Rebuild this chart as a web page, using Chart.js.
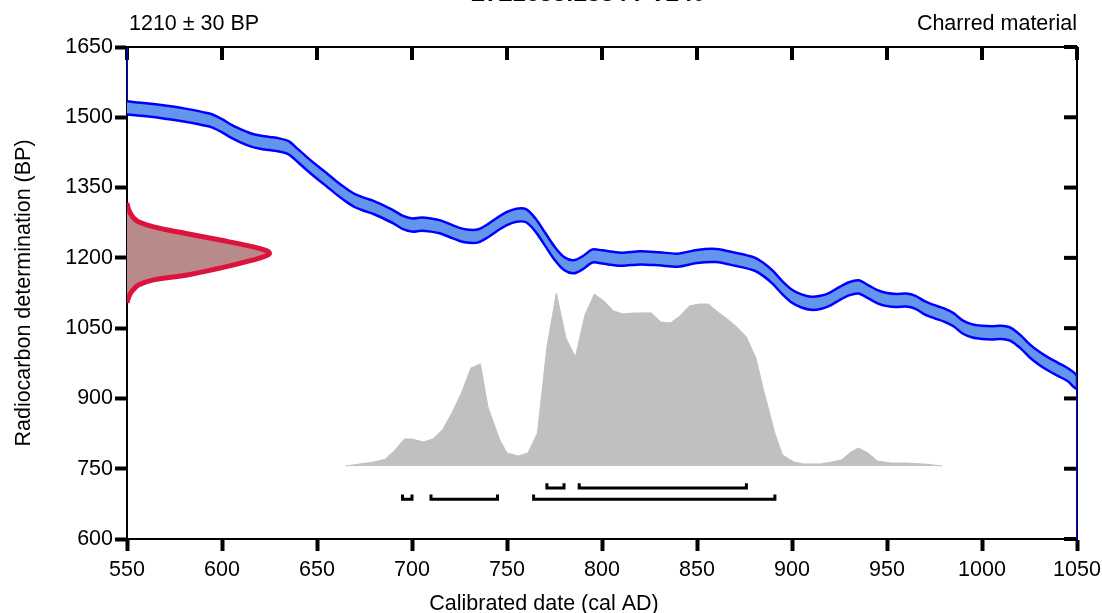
<!DOCTYPE html>
<html>
<head>
<meta charset="utf-8">
<script src="https://cdn.jsdelivr.net/npm/chart.js@4.4.0/dist/chart.umd.min.js"></script>
<style>
html, body { margin: 0; padding: 0; background: #fff; }
canvas { display: block; }
</style>
</head>
<body>
<canvas id="calChart" width="1102" height="613"></canvas>
<script>
// sample info
const chartTitle = 'LTL1633:2384 PV240';
const sampleLabel = '1210 ± 30 BP';
const materialLabel = 'Charred material';

// calibration curve (centre, BP) and half width
const calYears = [550, 560, 570, 580, 590, 595, 600, 605, 610, 615, 620, 625, 630, 635, 640, 645, 650, 655, 660, 665,
  670, 675, 680, 685, 690, 695, 700, 705, 710, 715, 720, 725, 730, 735, 740, 745, 750, 755, 760, 765,
  770, 775, 780, 785, 790, 795, 800, 810, 820, 830, 840, 850, 860, 870, 880, 885, 890, 895, 900, 905,
  910, 915, 920, 925, 930, 935, 940, 945, 950, 955, 960, 965, 970, 975, 980, 985, 990, 995, 1000, 1005,
  1010, 1015, 1020, 1025, 1030, 1035, 1040, 1045, 1050];
const calBP = [1520, 1516, 1511, 1505, 1497, 1492, 1482, 1470, 1460, 1452, 1447, 1444, 1441, 1435, 1418, 1400, 1383, 1367, 1350, 1335,
  1322, 1314, 1307, 1298, 1288, 1276, 1270, 1272, 1270, 1266, 1258, 1250, 1246, 1247, 1258, 1272, 1284, 1291, 1290, 1270,
  1240, 1210, 1188, 1181, 1190, 1204, 1202, 1197, 1200, 1198, 1195, 1203, 1205, 1197, 1187, 1175, 1158, 1136, 1118, 1108,
  1103, 1105, 1112, 1124, 1134, 1138, 1128, 1117, 1111, 1109, 1110, 1105, 1093, 1085, 1078, 1068, 1052, 1044, 1041, 1040,
  1041, 1037, 1022, 1002, 986, 973, 962, 951, 934];
const calErr = 14;

// measurement distribution (BP level, extent in years from the axis)
const measBP = [1104, 1114, 1124, 1133, 1142, 1153, 1163, 1178, 1195, 1204, 1210, 1216, 1224, 1238, 1252, 1266, 1277, 1285, 1295, 1305, 1317];
const measExtent = [0, 0.7, 1.8, 3.5, 6, 14, 31, 49, 66, 73, 75, 73, 66, 49, 31, 14, 6, 3.5, 1.8, 0.7, 0];

// calibrated probability (relative)
const probYears = [665, 680, 686, 691, 696, 700, 706, 711, 716, 721, 726, 731, 736, 740, 746, 750, 756, 761, 766, 771,
  776, 781, 786, 791, 796, 801, 806, 811, 816, 821, 826, 831, 836, 841, 846, 851, 856, 861, 866, 871,
  876, 881, 885, 891, 895, 901, 906, 915, 921, 926, 931, 935, 940, 945, 952, 961, 971, 979];
const probValues = [0, 0.023, 0.04, 0.092, 0.156, 0.156, 0.139, 0.156, 0.208, 0.306, 0.422, 0.566, 0.59, 0.341, 0.156, 0.075, 0.058, 0.075, 0.19, 0.688,
  1.0, 0.74, 0.63, 0.873, 0.994, 0.954, 0.896, 0.879, 0.884, 0.885, 0.885, 0.832, 0.827, 0.867, 0.925, 0.936, 0.936, 0.89, 0.85, 0.803,
  0.746, 0.624, 0.44, 0.19, 0.064, 0.023, 0.012, 0.012, 0.023, 0.035, 0.081, 0.104, 0.075, 0.029, 0.017, 0.017, 0.01, 0];

// ranges (cal AD)
const range68 = [[771, 780], [788, 876]];
const range95 = [[695, 700], [710, 745], [764, 891]];

const xTicks = [550, 600, 650, 700, 750, 800, 850, 900, 950, 1000, 1050];
const yTicks = [600, 750, 900, 1050, 1200, 1350, 1500, 1650];

// ---- build datasets ----
const bandPts = [];
calYears.forEach((yr, i) => bandPts.push({ x: yr, y: calBP[i] + calErr }));
for (let i = calYears.length - 1; i >= 0; i--) bandPts.push({ x: calYears[i], y: calBP[i] - calErr });

const edgePts = [
  { x: 550, y: 1650 }, { x: 550, y: calBP[0] + calErr }, { x: 550, y: null },
  { x: 1050, y: calBP[calBP.length - 1] - calErr }, { x: 1050, y: 600 }
];

const measPts = measBP.map((bp, i) => ({ x: 550 + measExtent[i], y: bp }));
const probPts = probYears.map((yr, i) => ({ x: yr, y: probValues[i] }));

function bracketPts(ranges, level) {
  const pts = [];
  ranges.forEach(r => {
    pts.push({ x: r[0], y: level + 10 }, { x: r[0], y: level }, { x: r[1], y: level }, { x: r[1], y: level + 10 });
    pts.push({ x: r[1], y: null });
  });
  return pts;
}

const font = '"Liberation Sans", Arial, sans-serif';
const fontSize = 21.5;
Chart.defaults.font.family = font;
Chart.defaults.font.size = fontSize;
Chart.defaults.color = '#000';

const framePlugin = {
  id: 'frame',
  beforeDatasetsDraw(chart) {
    const { ctx, chartArea: a, scales: { x, y } } = chart;
    ctx.save();
    ctx.strokeStyle = '#000';
    ctx.lineWidth = 2;
    ctx.beginPath();
    ctx.moveTo(a.left, a.top);
    ctx.lineTo(a.right, a.top);
    ctx.lineTo(a.right, a.bottom);
    ctx.stroke();

    // inward ticks on top and right
    ctx.lineWidth = 4;
    xTicks.forEach(v => {
      const px = x.getPixelForValue(v);
      ctx.beginPath();
      ctx.moveTo(px, a.top);
      ctx.lineTo(px, a.top + 13);
      ctx.stroke();
    });
    yTicks.forEach(v => {
      const py = y.getPixelForValue(v);
      ctx.beginPath();
      ctx.moveTo(a.right - 13, py);
      ctx.lineTo(a.right, py);
      ctx.stroke();
    });
    ctx.restore();
  },
  afterDraw(chart) {
    const { ctx, chartArea: a } = chart;
    ctx.save();
    ctx.fillStyle = '#000';
    ctx.font = fontSize + 'px ' + font;
    ctx.textBaseline = 'alphabetic';
    ctx.textAlign = 'left';
    ctx.fillText(sampleLabel, a.left + 2, 30);
    ctx.textAlign = 'right';
    ctx.fillText(materialLabel, a.right, 30);

    ctx.textAlign = 'center';
    ctx.fillText('Calibrated date (cal AD)', 544, 610);

    ctx.save();
    ctx.translate(30, (a.top + a.bottom) / 2);
    ctx.rotate(-Math.PI / 2);
    ctx.fillText('Radiocarbon determination (BP)', 0, 0);
    ctx.restore();

    ctx.font = 'bold 24px ' + font;
    ctx.fillText(chartTitle, 588, 1);
    ctx.restore();
  }
};

new Chart(document.getElementById('calChart'), {
  type: 'line',
  data: {
    datasets: [
      {
        label: 'ranges68',
        data: bracketPts(range68, 709),
        borderColor: '#000',
        borderWidth: 3,
        pointRadius: 0,
        spanGaps: false,
        fill: false,
        order: 1
      },
      {
        label: 'ranges95',
        data: bracketPts(range95, 685),
        borderColor: '#000',
        borderWidth: 3,
        pointRadius: 0,
        spanGaps: false,
        fill: false,
        order: 1
      },
      {
        label: 'measurement',
        data: measPts,
        borderColor: '#dc143c',
        backgroundColor: '#b98a8a',
        borderWidth: 5,
        pointRadius: 0,
        tension: 0.4,
        fill: 'shape',
        order: 2
      },
      {
        label: 'curve',
        data: bandPts,
        borderColor: '#0000ff',
        backgroundColor: '#6495ed',
        borderWidth: 2.5,
        pointRadius: 0,
        tension: 0.3,
        fill: 'shape',
        order: 3
      },
      {
        label: 'edges',
        data: edgePts,
        borderColor: '#0000ff',
        borderWidth: 2,
        pointRadius: 0,
        spanGaps: false,
        fill: false,
        order: 3
      },
      {
        label: 'probability',
        data: probPts,
        yAxisID: 'yp',
        borderColor: '#c0c0c0',
        backgroundColor: '#c0c0c0',
        borderWidth: 1,
        pointRadius: 0,
        fill: 'origin',
        order: 4
      }
    ]
  },
  options: {
    responsive: false,
    animation: false,
    events: [],
    layout: { padding: { top: 47, right: 25, left: 0, bottom: 0 } },
    plugins: { legend: { display: false }, tooltip: { enabled: false } },
    scales: {
      x: {
        type: 'linear',
        min: 550,
        max: 1050,
        afterFit: s => { s.height = 74; s.paddingLeft = 0; s.paddingRight = 0; },
        afterBuildTicks: s => { s.ticks = xTicks.map(v => ({ value: v })); },
        grid: { drawOnChartArea: false, drawTicks: true, tickLength: 12, tickWidth: 4, tickColor: '#000' },
        border: { display: true, width: 2, color: '#000' },
        ticks: { padding: 6, color: '#000', maxRotation: 0, callback: v => String(v) }
      },
      y: {
        type: 'linear',
        min: 600,
        max: 1650,
        afterFit: s => { s.width = 127; s.paddingTop = 0; s.paddingBottom = 0; },
        afterBuildTicks: s => { s.ticks = yTicks.map(v => ({ value: v })); },
        grid: { drawOnChartArea: false, drawTicks: true, tickLength: 12, tickWidth: 4, tickColor: '#000' },
        border: { display: true, width: 2, color: '#000' },
        ticks: { padding: 2, color: '#000', callback: v => String(v) }
      },
      yp: {
        type: 'linear',
        display: false,
        min: -0.422,
        max: 2.422
      }
    }
  },
  plugins: [framePlugin]
});
</script>
</body>
</html>
